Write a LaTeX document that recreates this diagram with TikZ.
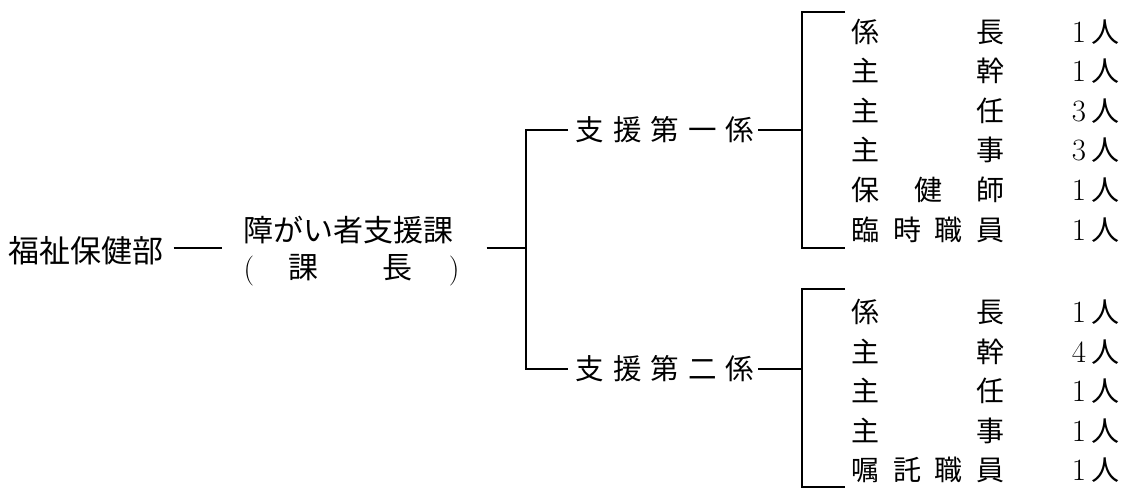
\documentclass[tikz,border=0pt]{standalone}
\usepackage{fontspec}
\newfontfamily\cjk{Noto Sans CJK JP}
\tikzset{
  conn/.style={line width=2.3pt},
  lbl/.style={inner sep=0pt, outer sep=0pt},
  rowlbl/.style={lbl, anchor=west, font=\fontsize{28}{30}\selectfont},
  kakari/.style={lbl, font=\fontsize{28.5}{30}\selectfont\cjk},
}
\newcommand\rowname[1]{\hbox to 153pt{\cjk #1}}
\newcommand\rowentry[2]{\hbox{\rowname{#1}\hbox to 114.5pt{\hfil{\fontsize{31}{31}\selectfont #2}\hskip 5pt{\cjk 人}}}}
\begin{document}
\begin{tikzpicture}[x=1pt,y=-1pt]
\useasboundingbox (0,0) rectangle (1129,489);
% left nodes
\node[lbl, anchor=west, font=\fontsize{31}{31}\selectfont\cjk] (dept) at (8.5,251) {福祉保健部};
\node[lbl, anchor=west, align=left, font=\fontsize{30}{37}\selectfont] (ka) at (243.5,251.5)
  {{\cjk 障がい者支援課}\\\hbox to 216pt{(\hskip 34pt{\cjk 課}\hfil{\cjk 長}\hskip 36pt)}};
\coordinate (jA) at (526,248);
\draw[conn] ([xshift=10pt]dept.east |- jA) -- ([xshift=-22pt]ka.west |- jA);
\draw[conn] ([xshift=27pt]ka.east |- jA) -- (jA);
% sections
\node[kakari] (k1) at (665,130) {\hbox to 179pt{支\hfil 援\hfil 第\hfil 一\hfil 係}};
\node[kakari] (k2) at (665,369) {\hbox to 179pt{支\hfil 援\hfil 第\hfil 二\hfil 係}};
\coordinate (b1) at (526,130);
\coordinate (b2) at (526,369);
\draw[conn] ([xshift=-7.5pt]k1.west) -- (b1) -- (b2) -- ([xshift=-7.5pt]k2.west);
% brackets
\coordinate (t1) at (802,12);  \coordinate (t1r) at (845,12);
\coordinate (m1) at (802,130);
\coordinate (e1) at (802,248); \coordinate (e1r) at (845,248);
\coordinate (t2) at (802,289); \coordinate (t2r) at (845,289);
\coordinate (m2) at (802,369);
\coordinate (e2) at (802,487); \coordinate (e2r) at (845,487);
\draw[conn] ([xshift=3.5pt]k1.east) -- (m1);
\draw[conn] ([xshift=3.5pt]k2.east) -- (m2);
\draw[conn] (t1r) -- (t1) -- (e1) -- (e1r);
\draw[conn] (t2r) -- (t2) -- (e2) -- (e2r);
% group 1
\node[rowlbl] (a1) at (851.5,31.5)  {\rowentry{係\hfil 長}{1}};
\node[rowlbl] (a2) at (851.5,71.1)  {\rowentry{主\hfil 幹}{1}};
\node[rowlbl] (a3) at (851.5,110.7) {\rowentry{主\hfil 任}{3}};
\node[rowlbl] (a4) at (851.5,150.3) {\rowentry{主\hfil 事}{3}};
\node[rowlbl] (a5) at (851.5,189.9) {\rowentry{保\hfil 健\hfil 師}{1}};
\node[rowlbl] (a6) at (851.5,229.5) {\rowentry{臨\hfil 時\hfil 職\hfil 員}{1}};
% group 2
\node[rowlbl] (c1) at (851.5,312)   {\rowentry{係\hfil 長}{1}};
\node[rowlbl] (c2) at (851.5,351.5) {\rowentry{主\hfil 幹}{4}};
\node[rowlbl] (c3) at (851.5,391)   {\rowentry{主\hfil 任}{1}};
\node[rowlbl] (c4) at (851.5,430.5) {\rowentry{主\hfil 事}{1}};
\node[rowlbl] (c5) at (851.5,470)   {\rowentry{嘱\hfil 託\hfil 職\hfil 員}{1}};
\end{tikzpicture}
\end{document}
